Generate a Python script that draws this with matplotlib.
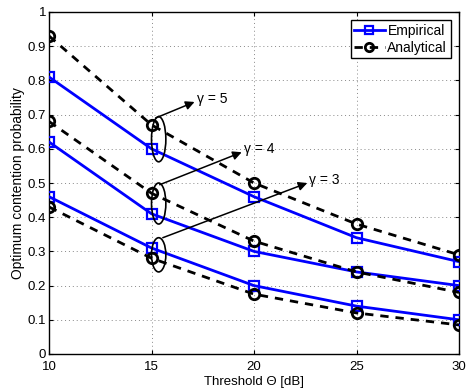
import matplotlib
matplotlib.use("Agg")
import matplotlib.pyplot as plt
from matplotlib.patches import Ellipse

plt.rcParams['font.family'] = ['Liberation Sans', 'DejaVu Sans']

threshold = [10, 15, 20, 25, 30]
gammas = [5, 4, 3]
empirical = {
    5: [0.81, 0.60, 0.46, 0.34, 0.27],
    4: [0.62, 0.41, 0.30, 0.24, 0.20],
    3: [0.46, 0.31, 0.20, 0.14, 0.10],
}
analytical = {
    5: [0.93, 0.67, 0.50, 0.38, 0.29],
    4: [0.68, 0.47, 0.33, 0.24, 0.18],
    3: [0.43, 0.28, 0.175, 0.12, 0.085],
}
# ellipse centre y, height for each gamma group at threshold 15
ellipse_y = {5: (0.628, 0.132), 4: (0.44, 0.12), 3: (0.29, 0.10)}
# arrow start, arrow end (data coords)
arrows = {
    5: ((15.2, 0.69), (17.1, 0.737)),
    4: ((15.4, 0.495), (19.4, 0.59)),
    3: ((15.55, 0.34), (22.6, 0.50)),
}

fig = plt.figure(figsize=(4.66, 3.88), dpi=100)
ax = fig.add_axes([49 / 466, 1 - 354 / 388, 410 / 466, 342 / 388])

for i, g in enumerate(gammas):
    ax.plot(threshold, empirical[g], '-s', color='#0000ff', lw=2, ms=6.5,
            mfc='none', mew=1.6, label='Empirical' if i == 0 else None, zorder=3)
    ax.plot(threshold, analytical[g], '--o', color='black', lw=2, ms=7.5,
            mfc='none', mew=2, dashes=(3, 2.5),
            label='Analytical' if i == 0 else None, zorder=3)

for g in gammas:
    cy, h = ellipse_y[g]
    ax.add_patch(Ellipse((15.35, cy), 0.7, h, fill=False, ec='black', lw=1.2, zorder=4))
    (x0, y0), (x1, y1) = arrows[g]
    ax.annotate('', xy=(x1, y1), xytext=(x0, y0),
                arrowprops=dict(arrowstyle='-|>', color='black', lw=1.1,
                                mutation_scale=13, shrinkA=0, shrinkB=0))
    ax.text(x1 + 0.1, y1 + 0.01, '\u03b3 = %d' % g, fontsize=10, va='center', ha='left')

ax.set_xlim(10, 30)
ax.set_ylim(0, 1)
ax.set_xticks(threshold)
ax.set_yticks([i / 10 for i in range(11)])
ax.set_yticklabels(['0', '0.1', '0.2', '0.3', '0.4', '0.5', '0.6', '0.7', '0.8', '0.9', '1'])
ax.tick_params(direction='in', labelsize=9.5, length=3, top=True, right=True)
ax.tick_params(axis='y', pad=2)
ax.tick_params(axis='x', pad=5.2)
ax.grid(True, linestyle=(0, (1, 3)), color='#888888', lw=0.7)
ax.set_xlabel('Threshold \u0398 [dB]', fontsize=9.5)
ax.xaxis.set_label_coords(0.5, -0.1)
ax.xaxis.label.set_va('bottom')
ax.set_ylabel('Optimum contention probability', fontsize=10, labelpad=2)
for s in ax.spines.values():
    s.set_linewidth(1)

leg = ax.legend(loc='upper right', fontsize=10, fancybox=False, edgecolor='black',
                framealpha=1, handlelength=2.2, handletextpad=0.2, borderpad=0.25,
                labelspacing=0.2, borderaxespad=0.6, markerscale=0.8)
leg.get_frame().set_linewidth(1)

fig.savefig('out.png', dpi=100)
